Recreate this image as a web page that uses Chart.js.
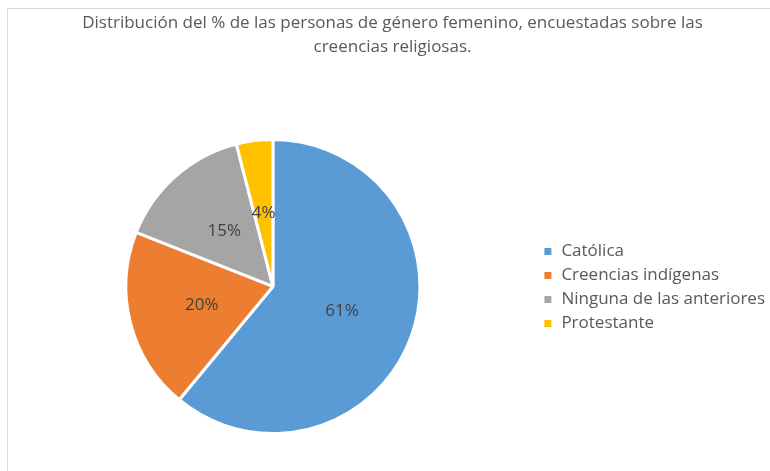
<!DOCTYPE html>
<html>
<head>
<meta charset="utf-8">
<script src="https://cdn.jsdelivr.net/npm/chart.js@4"></script>
<style>
    html, body { margin: 0; padding: 0; background: #fff; }
    #wrap { position: relative; width: 770px; height: 471px; overflow: hidden; }
    #frame { position: absolute; left: 7px; top: 8px; width: 800px; height: 500px; border-left: 1px solid #d9d9d9; border-top: 1px solid #d9d9d9; }
    canvas { position: absolute; left: 0; top: 0; }
</style>
</head>
<body>
<div id="wrap">
    <div id="frame"></div>
    <canvas id="pieChart" width="770" height="471"></canvas>
</div>
<script>
    const titleLines = ['Distribución del % de las personas de género femenino, encuestadas sobre las', 'creencias religiosas.'];
    const categories = ['Católica', 'Creencias indígenas', 'Ninguna de las anteriores', 'Protestante'];
    const percentValues = [61, 20, 15, 4];
    const sliceColors = ['#5B9BD5', '#ED7D31', '#A5A5A5', '#FFC000'];

    const textColor = '#595959';
    const fontFamily = '"Open Sans", "Noto Sans", sans-serif';

    // labels in the middle of each slice, like the excel data labels
    const sliceLabels = {
        id: 'sliceLabels',
        afterDatasetsDraw(chart) {
            const ctx = chart.ctx;
            const meta = chart.getDatasetMeta(0);
            ctx.save();
            ctx.font = '17px ' + fontFamily;
            ctx.fillStyle = '#404040';
            ctx.textAlign = 'center';
            ctx.textBaseline = 'middle';
            meta.data.forEach(function(arc, i) {
                const pos = arc.tooltipPosition();
                ctx.fillText(percentValues[i] + '%', pos.x, pos.y);
            });
            ctx.restore();
        }
    };

    new Chart(document.getElementById('pieChart'), {
        type: 'pie',
        data: {
            labels: categories,
            datasets: [{
                data: percentValues,
                backgroundColor: sliceColors,
                borderColor: '#ffffff',
                borderWidth: 3
            }]
        },
        options: {
            responsive: false,
            animation: false,
            layout: { padding: { left: 10, right: -5, top: 0, bottom: 36 } },
            plugins: {
                title: {
                    display: true,
                    text: titleLines,
                    color: textColor,
                    font: { family: fontFamily, size: 17, weight: 'normal', lineHeight: 1.41 },
                    padding: { top: 11, bottom: 79 }
                },
                legend: {
                    position: 'right',
                    align: 'start',
                    // empty title only used as a spacer to push the items down
                    title: { display: true, text: '', font: { size: 10, lineHeight: 1 }, padding: { top: 226, bottom: 0 } },
                    labels: {
                        color: textColor,
                        font: { family: fontFamily, size: 17 },
                        boxWidth: 10,
                        boxHeight: 10,
                        padding: 7
                    }
                },
                tooltip: { enabled: false }
            }
        },
        plugins: [sliceLabels]
    });
</script>
</body>
</html>
